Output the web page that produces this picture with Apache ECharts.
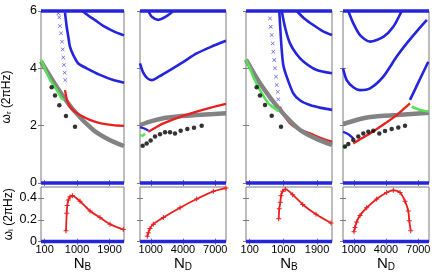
<!DOCTYPE html>
<html><head><meta charset="utf-8">
<script src="https://cdn.jsdelivr.net/npm/echarts@6/dist/echarts.min.js"></script>
<style>html,body{margin:0;padding:0;background:#fff}#c{width:436px;height:273px}</style>
</head><body><div id="c"></div>
<script>
// ---- axis ranges / ticks ----
const nbRange = [0, 2300];
const ndRange = [0, 8000];
const nbTicks = [100, 1000, 1900];
const ndTicks = [1000, 4000, 7000];
const wrTicks = [0, 2, 4, 6];
const wiTicks = [0, 0.2, 0.4];

// ---- edges (blue at omega = 6 and 0) ----
const nbEdge6 = [[0, 6], [2300, 6]];
const nbEdge0 = [[0, 0], [2300, 0]];
const ndEdge6 = [[0, 6], [8000, 6]];
const ndEdge0 = [[0, 0], [8000, 0]];

// ---- panel 1 (N_B, real part) ----
const p1BlueTop = [[1150, 6], [1300, 5.85], [1500, 5.68], [1750, 5.46], [2000, 5.3], [2300, 5.15]];
const p1BlueMid = [[665, 5.95], [712, 5.45], [757, 5.1], [804, 4.75], [895, 4.46], [1034, 4.17], [1266, 4.0], [1634, 3.77], [2003, 3.59], [2300, 3.5]];
const p1Star = [[480, 5.92], [507, 5.78], [526, 5.48], [554, 5.22], [582, 4.93], [601, 4.66], [618, 4.38], [637, 4.12], [657, 3.85], [673, 3.59]];
const p1Green = [[0, 4.3], [120, 3.95], [249, 3.6], [434, 3.25], [573, 2.95], [640, 2.9]];
const p1Red = [[665, 3.24], [720, 2.9], [803, 2.66], [950, 2.48], [1080, 2.37], [1350, 2.2], [1634, 2.09], [2000, 2.02], [2300, 1.99]];
const p1Gray = [[0, 4.24], [434, 3.36], [895, 2.55], [1449, 1.85], [1900, 1.5], [2300, 1.29]];
const p1Black = [[296, 3.34], [388, 3.05], [508, 2.71], [692, 2.34], [942, 1.96]];

// ---- panel 2 (N_D, real part) ----
const p2BlueDip = [[772, 6], [1100, 5.8], [1702, 5.69], [2400, 5.8], [3100, 6]];
const p2BlueCurve = [[0, 4.17], [300, 3.85], [700, 3.65], [1085, 3.59], [1800, 3.72], [2791, 3.94], [4000, 4.22], [5271, 4.52], [6600, 4.75], [8000, 4.96]];
const p2Gray = [[0, 2.02], [1000, 2.15], [2170, 2.26], [3500, 2.32], [5271, 2.37], [8000, 2.43]];
const p2Red = [[775, 1.79], [1300, 1.9], [2170, 2.08], [3700, 2.3], [5271, 2.49], [6600, 2.63], [8000, 2.76]];
const p2BlueShort = [[0, 1.95], [400, 1.9], [775, 1.83]];
const p2Green = [[0, 1.67], [250, 1.65], [465, 1.73]];
const p2Black = [[250, 1.30], [620, 1.38], [990, 1.48], [1395, 1.62], [1860, 1.70], [2326, 1.77], [2791, 1.77], [3256, 1.73], [3783, 1.82], [4403, 1.88], [5023, 1.93], [5736, 2.0]];

// ---- panel 3 (N_B, real part) ----
const p3BlueTop = [[1356, 6], [1550, 5.75], [1800, 5.51], [2050, 5.3], [2300, 5.16]];
const p3BlueMid = [[955, 6], [1050, 5.4], [1177, 4.87], [1350, 4.5], [1533, 4.24], [1891, 3.94], [2300, 3.83]];
const p3BlueLow = [[891, 5.98], [909, 5.57], [955, 4.64], [1000, 4.1], [1088, 3.71], [1265, 3.13], [1450, 2.88], [1712, 2.72], [2000, 2.62], [2300, 2.55]];
const p3Star = [[642, 5.74], [660, 5.45], [687, 5.16], [714, 4.87], [730, 4.58], [757, 4.29], [776, 4.0], [802, 3.71], [821, 3.42], [848, 3.18], [864, 2.92]];
const p3Gray = [[0, 4.3], [374, 3.48], [909, 2.55], [1444, 1.85], [1900, 1.53], [2300, 1.33]];
const p3Green = [[0, 4.3], [107, 4.0], [195, 3.71], [374, 3.24], [597, 2.78], [821, 2.55], [870, 2.5]];
const p3Black = [[286, 3.34], [374, 3.05], [508, 2.72], [687, 2.35], [936, 1.96]];
const p3Red = [[909, 2.66], [1000, 2.4], [1177, 2.08], [1400, 1.88], [1712, 1.73], [2000, 1.57], [2300, 1.44]];

// ---- panel 4 (N_D, real part) ----
const p4BlueU1 = [[493, 6], [958, 5.57], [1581, 5.16], [2512, 4.93], [3749, 5.1], [4679, 5.45], [5460, 6]];
const p4BlueU2 = [[0, 4.0], [344, 3.59], [958, 3.34], [1581, 3.24], [2512, 3.3], [3749, 3.71], [4995, 4.41], [5926, 4.87], [7000, 5.35], [7800, 5.69]];
const p4BlueRise = [[6233, 2.9], [7000, 3.5], [7935, 4.23]];
const p4Gray = [[0, 2.06], [1891, 2.26], [3000, 2.32], [4995, 2.37], [8000, 2.45]];
const p4Red = [[958, 1.38], [1700, 1.55], [2512, 1.73], [3800, 2.05], [4995, 2.37], [5700, 2.6], [6233, 2.78]];
const p4GreenL = [[0, 1.21], [300, 1.28]];
const p4GreenR = [[6391, 2.66], [7163, 2.55], [8000, 2.49]];
const p4BlueShort = [[0, 1.79], [500, 1.7], [958, 1.56]];
const p4Black = [[186, 1.27], [493, 1.36], [958, 1.5], [1423, 1.62], [1888, 1.73], [2353, 1.79], [2819, 1.82], [3377, 1.73], [3907, 1.81], [4530, 1.88], [5144, 1.94], [5767, 2.0]];

// ---- bottom panels (imaginary part) ----
const b1Red = [[693, 0.1], [712, 0.26], [729, 0.33], [757, 0.38], [804, 0.41], [870, 0.42], [1081, 0.37], [1358, 0.28], [1635, 0.22], [1912, 0.16], [2281, 0.11]];
const b2Red = [[679, 0.05], [772, 0.08], [930, 0.12], [1240, 0.16], [2170, 0.22], [3721, 0.31], [5271, 0.39], [6822, 0.46], [8000, 0.49]];
const b3Red = [[874, 0.21], [890, 0.30], [918, 0.36], [936, 0.42], [981, 0.46], [1051, 0.48], [1248, 0.43], [1516, 0.34], [1872, 0.25], [2273, 0.17]];
const b4Red = [[1023, 0.09], [1116, 0.13], [1271, 0.18], [1581, 0.24], [2205, 0.31], [3135, 0.39], [4065, 0.45], [4679, 0.47], [5302, 0.45], [5767, 0.37], [6074, 0.28], [6167, 0.19], [6298, 0.10]];

const BLUE = '#2424dc', RED = '#e82020', GREEN = '#55e055', GRAY = '#838383', BLACK = '#000';
const PLUS = 'path://M4,0h2v10h-2z M0,4h10v2h-10z';
const CROSS = 'path://M1,0L5,4L9,0L10,1L6,5L10,9L9,10L5,6L1,10L0,9L4,5L0,1z';

const tops = [
  {left: 41, width: 83, range: nbRange, ticks: nbTicks, nb: true},
  {left: 140, width: 86, range: ndRange, ticks: ndTicks, nb: false},
  {left: 246, width: 86, range: nbRange, ticks: nbTicks, nb: true},
  {left: 343, width: 86, range: ndRange, ticks: ndTicks, nb: false}
];
const grid = [], xAxis = [], yAxis = [], series = [];
const font = 'Liberation Sans, Arial, sans-serif';
tops.forEach(p => grid.push({left: p.left, width: p.width, top: 11, height: 172, show: true, borderColor: '#7a7a7a', borderWidth: 1}));
tops.forEach(p => grid.push({left: p.left, width: p.width, top: 187, height: 57, show: true, borderColor: '#7a7a7a', borderWidth: 1}));
const fmt = v => String(v);
for (let g = 0; g < 8; g++) {
  const p = tops[g % 4];
  const bottom = g >= 4;
  ['bottom', 'top'].forEach(pos => {
    const lab = bottom && pos === 'bottom';
    xAxis.push({
      type: 'value', gridIndex: g, min: p.range[0], max: p.range[1], position: pos,
      axisLine: {show: false}, splitLine: {show: false},
      axisTick: {show: true, inside: true, length: 3, customValues: p.ticks, lineStyle: {color: '#7a7a7a'}},
      axisLabel: {show: lab, customValues: p.ticks, formatter: fmt, margin: 3, fontSize: 11, color: '#000', fontFamily: font},
      name: lab ? (p.nb ? '{n|N}{s|B}' : '{n|N}{s|D}') : '',
      nameLocation: 'middle', nameGap: 11,
      nameTextStyle: {rich: {n: {fontSize: 15, fontFamily: font, color: '#000'}, s: {fontSize: 10, fontFamily: font, color: '#000', verticalAlign: 'bottom', padding: [6, 0, 0, 0]}}}
    });
  });
  ['left', 'right'].forEach(pos => {
    const first = (g === 0 || g === 4) && pos === 'left';
    yAxis.push({
      type: 'value', gridIndex: g, min: 0, max: bottom ? 0.5 : 6, position: pos,
      axisLine: {show: false}, splitLine: {show: false},
      axisTick: {show: true, inside: true, length: 3, customValues: bottom ? wiTicks : wrTicks, lineStyle: {color: '#7a7a7a'}},
      axisLabel: {show: first, customValues: bottom ? wiTicks : wrTicks, formatter: fmt, margin: 4, fontSize: 12.5, color: '#000', fontFamily: font},
      name: first ? (bottom ? '{w|ω}{s|i}{w| (2πHz)}' : '{w|ω}{s|r}{w| (2πHz)}') : '',
      nameLocation: 'middle', nameGap: bottom ? 26 : 28,
      nameTextStyle: {rich: {w: {fontSize: 12, fontFamily: font, color: '#000'}, s: {fontSize: 8, fontFamily: font, color: '#000', verticalAlign: 'bottom', padding: [4, 0, 0, 0]}}}
    });
  });
}
function ax(g) { return {xAxisIndex: g * 2, yAxisIndex: g * 2}; }
function line(g, data, color, width, extra) {
  series.push(Object.assign({type: 'line', data, smooth: 0.25, showSymbol: false, symbol: 'none',
    lineStyle: {color, width}, itemStyle: {color}, silent: true, animation: false, z: 2}, ax(g), extra || {}));
}
function dots(g, data, color, size, symbol, extra) {
  series.push(Object.assign({type: 'scatter', data, symbol, symbolSize: size,
    itemStyle: {color}, silent: true, animation: false, z: 4}, ax(g), extra || {}));
}
for (let g = 0; g < 4; g++) {
  const nb = tops[g].nb;
  line(g, nb ? nbEdge6 : ndEdge6, BLUE, 3.5, {clip: false, smooth: false});
  line(g, nb ? nbEdge0 : ndEdge0, BLUE, 3.5, {clip: false, smooth: false});
  line(g + 4, nb ? nbEdge0 : ndEdge0, BLUE, 3.5, {clip: false, smooth: false});
}
// panel 1
line(0, p1BlueTop, BLUE, 2.6);
line(0, p1BlueMid, BLUE, 2.6);
dots(0, p1Star, BLUE, 4, CROSS);
line(0, p1Gray, GRAY, 4.5, {z: 1});
line(0, p1Green, GREEN, 2.5);
line(0, p1Red, RED, 2.3);
dots(0, p1Black, BLACK, 4.5, 'circle');
// panel 2
line(1, p2BlueDip, BLUE, 2.6);
line(1, p2BlueCurve, BLUE, 2.6);
line(1, p2Gray, GRAY, 4.5, {z: 1});
line(1, p2Red, RED, 2.3);
line(1, p2BlueShort, BLUE, 2.3);
line(1, p2Green, GREEN, 2.5);
dots(1, p2Black, BLACK, 4.5, 'circle');
// panel 3
line(2, p3BlueTop, BLUE, 2.6);
line(2, p3BlueMid, BLUE, 2.6);
line(2, p3BlueLow, BLUE, 2.6);
dots(2, p3Star, BLUE, 4, CROSS);
line(2, p3Gray, GRAY, 4.5, {z: 1});
line(2, p3Green, GREEN, 2.5);
line(2, p3Red, RED, 2.3, {z: 0});
dots(2, p3Black, BLACK, 4.5, 'circle');
// panel 4
line(3, p4BlueU1, BLUE, 2.6);
line(3, p4BlueU2, BLUE, 2.6);
line(3, p4BlueRise, BLUE, 2.6);
line(3, p4Gray, GRAY, 4.5, {z: 1});
line(3, p4Red, RED, 2.3);
line(3, p4GreenL, GREEN, 2.5);
line(3, p4GreenR, GREEN, 2.5);
line(3, p4BlueShort, BLUE, 2.3);
dots(3, p4Black, BLACK, 4.5, 'circle');
// bottom panels
[b1Red, b2Red, b3Red, b4Red].forEach((d, i) => {
  line(i + 4, d, RED, 1.8, {showSymbol: true, symbol: PLUS, symbolSize: 5});
});

const chart = echarts.init(document.getElementById('c'), null, {renderer: 'canvas'});
chart.setOption({animation: false, grid, xAxis, yAxis, series});
</script></body></html>
